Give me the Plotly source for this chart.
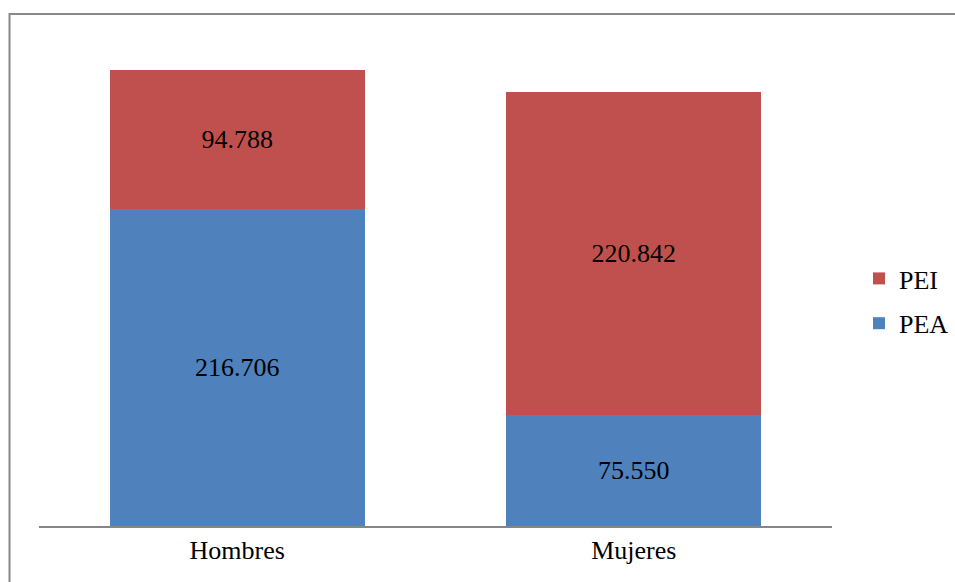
import plotly.graph_objects as go

categories = ["Hombres", "Mujeres"]
pea = [216706, 75550]
pei = [94788, 220842]
series_names = ["PEA", "PEI"]
legend_ranks = [2, 1]
colors = ["#4F81BD", "#C0504D"]

FONT = "'Liberation Serif', 'Times New Roman', Times, serif"
FS = 26

def fmt(v):
    return f"{v:,}".replace(",", ".")

fig = go.Figure()
for name, vals, col, rk in zip(series_names, [pea, pei], colors, legend_ranks):
    fig.add_trace(go.Bar(
        x=categories, y=vals, name=name, legendgroup=name, legendrank=rk,
        marker=dict(color=col, line=dict(width=0)),
        text=[fmt(v) for v in vals], textposition="inside", insidetextanchor="middle",
        textfont=dict(family=FONT, size=FS, color="black"),
    ))

W, H = 955, 582
L, R, T, B = 39, 832, 14, 526
fig.update_layout(
    width=W, height=H, barmode="stack", bargap=0.357,
    margin=dict(l=L, r=W - R, t=T, b=H - B, autoexpand=False),
    paper_bgcolor="white", plot_bgcolor="white",
    font=dict(family=FONT, size=FS, color="black"),
    xaxis=dict(showline=True, linecolor="#868686", linewidth=2, ticks="",
               tickfont=dict(size=FS, family=FONT)),
    yaxis=dict(range=[0, 350000], visible=False, showgrid=False),
    legend=dict(traceorder="grouped", x=(859 - L) / (R - L), y=(B - 255) / (B - T),
                xanchor="left", yanchor="top", font=dict(size=FS, family=FONT),
                itemwidth=30, tracegroupgap=8, bgcolor="rgba(0,0,0,0)"),
    uniformtext=dict(mode="show", minsize=10),
    shapes=[dict(type="rect", xref="paper", yref="paper",
                 x0=(9.5 - L) / (R - L), x1=(970 - L) / (R - L),
                 y0=(B - 600) / (B - T), y1=(B - 14) / (B - T),
                 line=dict(color="#888888", width=2), fillcolor="rgba(0,0,0,0)", layer="below")],
)
fig.write_html("out.html", config={"displayModeBar": False})

with open("out.html", "r", encoding="utf-8") as f:
    html = f.read()
html = html.replace("<head>", "<head><style>html,body{margin:0;padding:0;overflow:hidden;}</style>", 1)
with open("out.html", "w", encoding="utf-8") as f:
    f.write(html)
